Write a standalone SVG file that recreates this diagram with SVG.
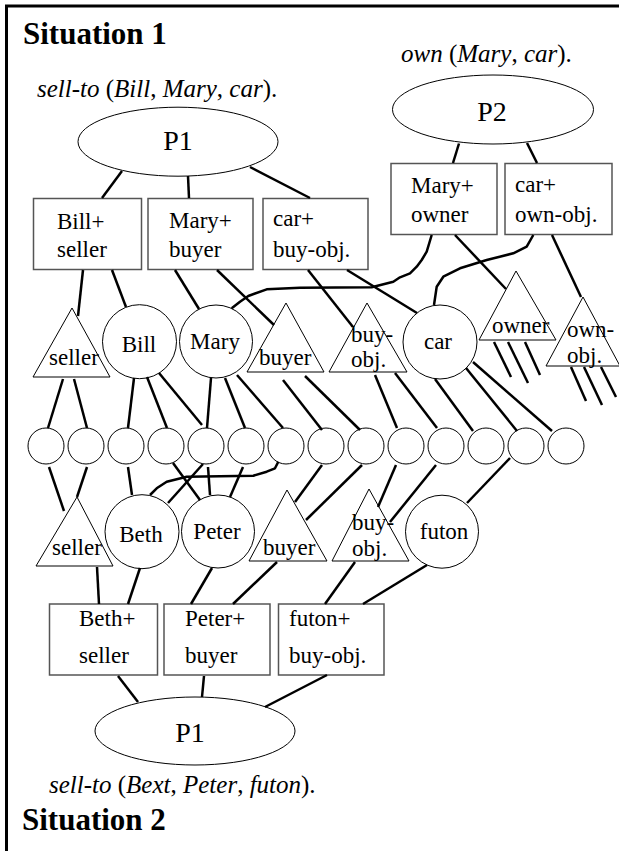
<svg xmlns="http://www.w3.org/2000/svg" width="619" height="851" viewBox="0 0 619 851">
<style>
.frame{stroke:#000;stroke-width:3;fill:none}
.box{fill:#fff;stroke:#555;stroke-width:1.5}
.shp{fill:#fff;stroke:#000;stroke-width:1}
text{font-family:"Liberation Serif","Times New Roman",Tinos,"Nimbus Roman","FreeSerif","Noto Serif","DejaVu Serif",serif}
.t{font-size:23px;fill:#000}
.m{text-anchor:middle}
.big{font-size:28px}
.title{font-size:31px;font-weight:bold;fill:#000}
.pred{font-size:25px;fill:#000}
.i{font-style:italic}
.conn line,.conn path{stroke:#000;stroke-width:2.5;fill:none;stroke-linejoin:round}
</style>
<rect width="619" height="851" fill="#fff"/>
<path class="frame" d="M6.5,851 V6 H619"/>
<g>
<text class="title" x="23" y="44">Situation 1</text>
<text class="pred" x="37" y="97"><tspan class="i">sell-to</tspan> (<tspan class="i">Bill</tspan>, <tspan class="i">Mary</tspan>, <tspan class="i">car</tspan>).</text>
<text class="pred" x="401" y="62"><tspan class="i">own</tspan> (<tspan class="i">Mary</tspan>, <tspan class="i">car</tspan>).</text>
<text class="pred" x="49" y="793"><tspan class="i">sell-to</tspan> (<tspan class="i">Bext</tspan>, <tspan class="i">Peter</tspan>, <tspan class="i">futon</tspan>).</text>
<text class="title" x="22" y="830">Situation 2</text>

<g id="P1top"><ellipse class="shp" cx="178" cy="141.7" rx="100" ry="34.5"/><text class="t m big" x="178" y="150">P1</text></g>
<g id="P2"><ellipse class="shp" cx="493" cy="109.5" rx="100.5" ry="34.5"/><text class="t m big" x="492" y="121">P2</text></g>
<g id="P1bottom"><ellipse class="shp" cx="195" cy="731" rx="100" ry="34"/><text class="t m big" x="190" y="742">P1</text></g>

<g id="BillSeller"><rect class="box" x="33.5" y="198.5" width="108" height="71"/><text class="t" x="57" y="229">Bill+</text><text class="t" x="57" y="257">seller</text></g>
<g id="MaryBuyer"><rect class="box" x="148" y="198.5" width="105" height="71"/><text class="t" x="169" y="228">Mary+</text><text class="t" x="169" y="257">buyer</text></g>
<g id="CarBuyObj"><rect class="box" x="263" y="198.5" width="105" height="71"/><text class="t" x="273" y="226">car+</text><text class="t" x="273" y="257">buy-obj.</text></g>
<g id="MaryOwner"><rect class="box" x="391" y="163.5" width="106" height="71"/><text class="t" x="411" y="193">Mary+</text><text class="t" x="411" y="222">owner</text></g>
<g id="CarOwnObj"><rect class="box" x="505" y="163.5" width="107" height="71"/><text class="t" x="515" y="192">car+</text><text class="t" x="515" y="222">own-obj.</text></g>

<g id="seller1"><polygon class="shp" points="72,308 33,377 110,377"/><text class="t" x="49" y="365">seller</text></g>
<g id="Bill"><circle class="shp" cx="139.5" cy="341.7" r="37"/><text class="t m" x="139" y="352">Bill</text></g>
<g id="Mary"><circle class="shp" cx="216" cy="341.5" r="36.5"/><text class="t m" x="215" y="349">Mary</text></g>
<g id="buyer1"><polygon class="shp" points="286,303 247,372 324,372"/><text class="t" x="259" y="365">buyer</text></g>
<g id="buyobj1"><polygon class="shp" points="367,303 329,372 407,372"/><text class="t" x="351" y="342">buy-</text><text class="t" x="351" y="367">obj.</text></g>
<g id="car"><circle class="shp" cx="440" cy="342" r="37"/><text class="t m" x="438" y="349">car</text></g>
<g id="owner"><polygon class="shp" points="516,271 479,340 556,340"/><text class="t" x="492" y="333">owner</text></g>
<g id="ownobj"><polygon class="shp" points="583,297 546,366 620,366"/><text class="t" x="567" y="337">own-</text><text class="t" x="567" y="363">obj.</text></g>

<g id="units">
<circle class="shp" cx="46" cy="446" r="18"/><circle class="shp" cx="86" cy="446" r="18"/><circle class="shp" cx="126" cy="446" r="18"/><circle class="shp" cx="166" cy="446" r="18"/><circle class="shp" cx="206" cy="446" r="18"/><circle class="shp" cx="246" cy="446" r="18"/><circle class="shp" cx="286" cy="446" r="18"/><circle class="shp" cx="326" cy="446" r="18"/><circle class="shp" cx="366" cy="446" r="18"/><circle class="shp" cx="406" cy="446" r="18"/><circle class="shp" cx="446" cy="446" r="18"/><circle class="shp" cx="486" cy="446" r="18"/><circle class="shp" cx="526" cy="446" r="18"/><circle class="shp" cx="566" cy="446" r="18"/>
</g>

<g id="seller2"><polygon class="shp" points="77,497 36,566 113,566"/><text class="t" x="52" y="555">seller</text></g>
<g id="Beth"><circle class="shp" cx="142" cy="531.7" r="37"/><text class="t m" x="141" y="541.5">Beth</text></g>
<g id="Peter"><circle class="shp" cx="218" cy="531.5" r="36.5"/><text class="t m" x="217" y="539">Peter</text></g>
<g id="buyer2"><polygon class="shp" points="287,490 249,561 327,561"/><text class="t" x="263" y="555">buyer</text></g>
<g id="buyobj2"><polygon class="shp" points="369,489 332,561 409,561"/><text class="t" x="352" y="530">buy-</text><text class="t" x="352" y="556">obj.</text></g>
<g id="futon"><circle class="shp" cx="442" cy="531.7" r="36.5"/><text class="t m" x="444" y="539">futon</text></g>

<g id="BethSeller"><rect class="box" x="49.5" y="604" width="108" height="71"/><text class="t" x="79" y="626">Beth+</text><text class="t" x="79" y="663">seller</text></g>
<g id="PeterBuyer"><rect class="box" x="164" y="604" width="106" height="71"/><text class="t" x="185" y="626">Peter+</text><text class="t" x="185" y="663">buyer</text></g>
<g id="FutonBuyObj"><rect class="box" x="278.5" y="604" width="105.5" height="71"/><text class="t" x="289" y="626">futon+</text><text class="t" x="289" y="663">buy-obj.</text></g>
</g>

<g class="conn">
<line x1="122" y1="171" x2="102" y2="198"/>
<line x1="188" y1="176" x2="189" y2="198"/>
<line x1="250" y1="167" x2="310" y2="198"/>
<line x1="459" y1="143.5" x2="453" y2="163"/>
<line x1="527" y1="143" x2="537" y2="163"/>
<line x1="83" y1="270" x2="78" y2="316"/>
<line x1="112" y1="270" x2="126" y2="307"/>
<line x1="175" y1="270" x2="199" y2="309"/>
<line x1="217" y1="270" x2="274" y2="325"/>
<line x1="308" y1="270" x2="353" y2="327"/>
<line x1="347" y1="270" x2="417" y2="313"/>
<line x1="455" y1="235" x2="506" y2="289"/>
<line x1="552" y1="235" x2="581" y2="297"/>
<path d="M431.7,235 L426.7,251.7 L421.7,260 L416.7,266.7 L410,273.3 L400,277.3 L393.3,281.7 L371.7,287.3 L300,287.7 L266.7,289.3 L248.3,296 L240,301.7 L231.7,308.3"/>
<path d="M533.3,235 L526.7,246.7 L513.3,253.3 L486.7,260 L460,268.3 L443.3,276.7 L436.7,286.7 L434,305"/>
<line x1="63" y1="379" x2="48" y2="428"/>
<line x1="74" y1="379" x2="87" y2="428"/>
<line x1="134" y1="378" x2="128" y2="428"/>
<line x1="147" y1="377" x2="167" y2="428"/>
<line x1="159" y1="373" x2="202" y2="425"/>
<line x1="211" y1="378" x2="207" y2="428"/>
<line x1="225" y1="378" x2="245" y2="428"/>
<line x1="237" y1="375" x2="283" y2="428"/>
<line x1="283" y1="380" x2="322" y2="430"/>
<line x1="305" y1="376" x2="360" y2="430"/>
<line x1="375" y1="375" x2="397" y2="428"/>
<line x1="395" y1="373" x2="437" y2="428"/>
<line x1="435" y1="379" x2="473" y2="431"/>
<line x1="466" y1="368" x2="517" y2="431"/>
<line x1="473" y1="362" x2="552" y2="431"/>
<line x1="494" y1="342" x2="511" y2="377"/>
<line x1="508" y1="342" x2="528" y2="383"/>
<line x1="525" y1="342" x2="540" y2="375"/>
<line x1="571" y1="367" x2="586" y2="401"/>
<line x1="584" y1="367" x2="602" y2="405"/>
<line x1="601" y1="367" x2="616" y2="397"/>
<line x1="49" y1="467" x2="64" y2="511"/>
<line x1="87" y1="467" x2="77" y2="497"/>
<line x1="128" y1="467" x2="132" y2="495"/>
<line x1="173" y1="463" x2="200" y2="500"/>
<line x1="203" y1="464" x2="168" y2="503"/>
<line x1="208" y1="467" x2="210" y2="495"/>
<line x1="243" y1="467" x2="230" y2="497"/>
<path d="M278.3,461.7 L275,468.3 L266.7,471.7 L253.3,475.7 L186.7,476.7 L166.7,481.7 L156.7,488.3 L150,495"/>
<line x1="322" y1="465" x2="295" y2="502"/>
<line x1="362" y1="465" x2="306" y2="520"/>
<line x1="396" y1="465" x2="378" y2="507"/>
<line x1="436" y1="465" x2="390" y2="522"/>
<line x1="510" y1="458" x2="467" y2="503"/>
<line x1="97" y1="567" x2="99" y2="604"/>
<line x1="140" y1="568" x2="128" y2="604"/>
<line x1="212" y1="568" x2="191" y2="604"/>
<line x1="277" y1="562" x2="233" y2="604"/>
<line x1="355" y1="562" x2="325" y2="604"/>
<line x1="427" y1="565" x2="363" y2="604"/>
<line x1="118" y1="676" x2="138" y2="702"/>
<line x1="204" y1="676" x2="202" y2="697"/>
<line x1="327" y1="675" x2="265" y2="707"/>
</g>
</svg>
